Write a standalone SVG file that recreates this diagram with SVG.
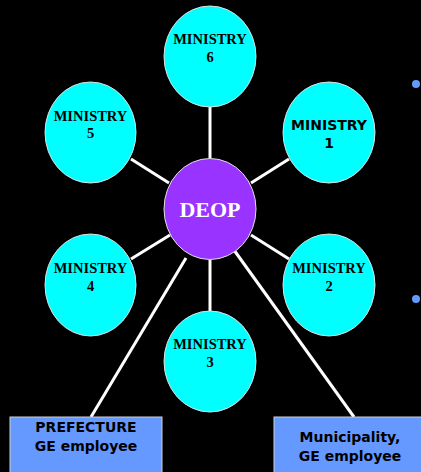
<svg xmlns="http://www.w3.org/2000/svg" width="421" height="472" viewBox="0 0 421 472">
<style>
.bg{fill:#000}
.min{fill:#00FFFF;stroke:#E0E0E0;stroke-width:1}
.deop{fill:#9933FF;stroke:#E0E0E0;stroke-width:1}
.box{fill:#6699FF;stroke:#D0D0D0;stroke-width:1}
.conn line{stroke:#FFFFFF;stroke-width:3}
.serif{font-family:"Liberation Serif","Times New Roman",serif;font-weight:bold;font-size:14.5px;fill:#000;text-anchor:middle}
.sans{font-family:"DejaVu Sans",Verdana,sans-serif;font-weight:bold;font-size:14px;fill:#000;text-anchor:middle}
.title{font-family:"Liberation Serif","Times New Roman",serif;font-weight:bold;font-size:22px;fill:#FFF;text-anchor:middle}
.dot{fill:#6699FF}
</style>
<rect class="bg" x="0" y="0" width="421" height="472"/>
<g id="connectors" class="conn">
<line x1="210" y1="107" x2="210" y2="158"/>
<line x1="131" y1="159" x2="169" y2="183"/>
<line x1="289" y1="159" x2="251" y2="183"/>
<line x1="131" y1="259" x2="170" y2="235"/>
<line x1="289" y1="259" x2="251" y2="235"/>
<line x1="210" y1="260" x2="210" y2="311"/>
<line x1="186" y1="258" x2="91" y2="417"/>
<line x1="234" y1="250" x2="354" y2="417"/>
</g>
<g id="ministry6"><ellipse class="min" cx="210" cy="56.5" rx="46" ry="50.5"/><text class="serif" x="210" y="44">MINISTRY</text><text class="serif" x="210" y="62">6</text></g>
<g id="ministry5"><ellipse class="min" cx="90.5" cy="132.5" rx="45.5" ry="50.5"/><text class="serif" x="90.5" y="121">MINISTRY</text><text class="serif" x="90.5" y="138">5</text></g>
<g id="ministry1"><ellipse class="min" cx="329" cy="132.5" rx="46" ry="50.5"/><text class="sans" x="329" y="130">MINISTRY</text><text class="sans" x="329" y="148">1</text></g>
<g id="deop"><ellipse class="deop" cx="210" cy="209" rx="46" ry="50.5"/><text class="title" x="210" y="217">DEOP</text></g>
<g id="ministry4"><ellipse class="min" cx="90.5" cy="285" rx="45.5" ry="51"/><text class="serif" x="90.5" y="273">MINISTRY</text><text class="serif" x="90.5" y="291">4</text></g>
<g id="ministry2"><ellipse class="min" cx="329" cy="285" rx="46" ry="51"/><text class="serif" x="329" y="273">MINISTRY</text><text class="serif" x="329" y="291">2</text></g>
<g id="ministry3"><ellipse class="min" cx="210" cy="361.5" rx="46" ry="50.5"/><text class="serif" x="210" y="349">MINISTRY</text><text class="serif" x="210" y="367">3</text></g>
<g id="prefecture"><rect class="box" x="10" y="417" width="152" height="60"/><text class="sans" x="86" y="432">PREFECTURE</text><text class="sans" x="86" y="451">GE employee</text></g>
<g id="municipality"><rect class="box" x="274" y="417" width="152" height="60"/><text class="sans" x="350" y="442">Municipality,</text><text class="sans" x="350" y="461">GE employee</text></g>
<circle class="dot" cx="416" cy="84" r="4"/>
<circle class="dot" cx="416" cy="299" r="4"/>
</svg>
